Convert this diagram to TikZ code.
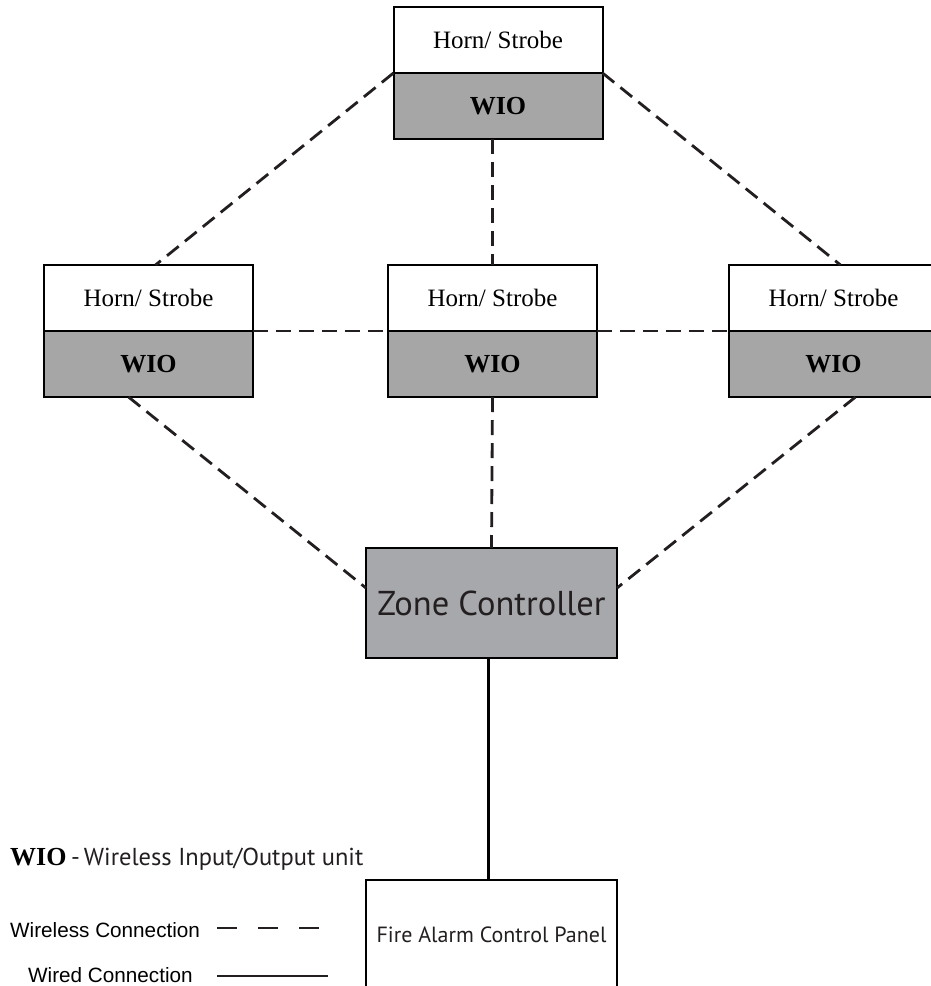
\documentclass[tikz,border=0pt]{standalone}
\usepackage{fontspec}
\setmainfont{Liberation Serif}
\newfontfamily\myriadish{PT Sans}
\newfontfamily\arialish{Liberation Sans}
\usetikzlibrary{calc}
\definecolor{wiogray}{HTML}{A6A6A6}
\definecolor{zcgray}{HTML}{A7A8AB}
\definecolor{ink}{HTML}{231F20}
\tikzset{
  hsbox/.style={draw=black, line width=2pt, fill=white, minimum width=209pt,
    minimum height=66pt, inner sep=0pt, outer sep=0pt,
    font=\fontsize{25}{28}\selectfont},
  wiobox/.style={hsbox, fill=wiogray, font=\fontsize{26}{28}\selectfont\bfseries},
  bigbox/.style={draw=black, line width=2pt, minimum width=251pt,
    minimum height=110pt, inner sep=0pt, outer sep=0pt, text=ink},
  wireless/.style={draw=ink, line width=2.8pt, dash pattern=on 15pt off 8pt},
  wired/.style={draw=black, line width=3pt},
}
\begin{document}
\begin{tikzpicture}[x=1pt, y=-1pt]
\useasboundingbox (0,0) rectangle (930,986);

% Horn/Strobe units, each with its WIO underneath
\node[hsbox]  (hs0)  at (498,40)    {Horn/ Strobe};
\node[wiobox] (wio0) at (498,106)   {WIO};
\node[hsbox]  (hs1)  at (148.5,298) {Horn/ Strobe};
\node[wiobox] (wio1) at (148.5,364) {WIO};
\node[hsbox]  (hs2)  at (492.5,298) {Horn/ Strobe};
\node[wiobox] (wio2) at (492.5,364) {WIO};
\node[hsbox]  (hs3)  at (833.5,298) {Horn/ Strobe};
\node[wiobox] (wio3) at (833.5,364) {WIO};

% Zone controller and fire alarm panel
\node[bigbox, fill=zcgray, font=\myriadish\fontsize{34.5}{38}\selectfont]
  (zc) at (491.5,603) {Zone Controller};
\node[bigbox, fill=white, font=\myriadish\fontsize{22}{24}\selectfont]
  (fap) at (491.5,935) {Fire Alarm Control Panel};

% Wireless links
\draw[wireless] (wio0.north west) -- ($(hs1.north)+(7,0)$);
\draw[wireless] (wio0.north east) -- ($(hs3.north)+(7,0)$);
\draw[wireless] (wio0.south -| hs2.north) -- (hs2.north);
\draw[wireless] (hs1.south east) -- (hs2.south west);
\draw[wireless] (hs2.south east) -- (hs3.south west);
\draw[wireless] ($(wio1.south)+(-20,0)$) -- ($(zc.west)+(0,-15)$);
\draw[wireless] (wio2.south) -- (zc.north);
\draw[wireless] ($(wio3.south)+(22,0)$) -- ($(zc.east)+(0,-15)$);

% Wired link
\draw[wired] ($(zc.south)+(-3,0)$) -- ($(fap.north)+(-3,0)$);

% Legend
\node[anchor=base west, inner sep=0pt, font=\fontsize{26}{28}\selectfont\bfseries]
  (lwio) at (10,865) {WIO};
\node[anchor=base west, inner sep=0pt, text=ink, font=\myriadish\fontsize{24.5}{28}\selectfont]
  (ltxt) at (lwio.base east) {\,-\,Wireless Input/Output unit};
\node[anchor=base west, inner sep=0pt, font=\arialish\fontsize{20.7}{24}\selectfont]
  (lwl) at (10,937) {Wireless Connection};
\node[anchor=base west, inner sep=0pt, font=\arialish\fontsize{20.7}{24}\selectfont]
  (lwd) at (28,982) {Wired Connection};
\draw[draw=ink, line width=2.5pt, dash pattern=on 20pt off 21pt] (217,928) -- (325,928);
\draw[draw=ink, line width=2.5pt] (217,976) -- (328,976);
\end{tikzpicture}
\end{document}
